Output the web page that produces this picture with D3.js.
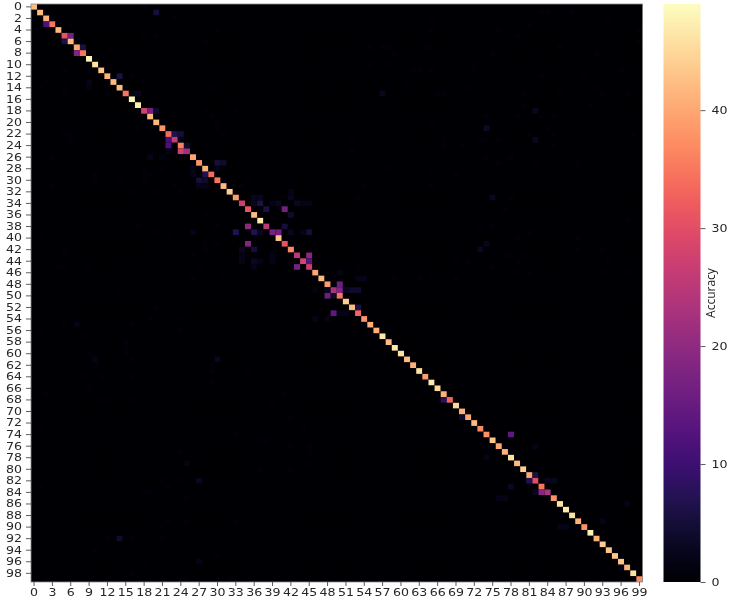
<!DOCTYPE html>
<html>
<head>
<meta charset="utf-8">
<script src="https://cdnjs.cloudflare.com/ajax/libs/d3/7.8.5/d3.min.js"></script>
<style>
  html, body { margin: 0; padding: 0; background: #fff; }
  svg { display: block; filter: blur(0.45px); }
  text { font-family: "DejaVu Sans", sans-serif; fill: #262626; }
</style>
</head>
<body>
<div id="chart"></div>
<script>
// accuracy on the diagonal, class 0 to 99
var diagonal = [
  42,42,41,35,42,31,42,40,35,48,
  46,43,41,42,42,35,48,47,28,42,
  42,38,34,26,36,22,40,38,41,34,
  35,42,44,39,27,31,42,47,25,17,
  43,31,37,25,28,27,40,42,39,23,
  35,44,42,33,38,41,41,47,42,47,
  46,42,41,46,39,47,45,41,33,45,
  41,40,42,37,38,43,40,41,46,42,
  44,40,30,35,23,38,46,47,46,41,
  38,48,41,44,43,43,43,41,46,37
];

// visible confusions: [row, col, value]
var offCells = [
  [1,20,5],[3,2,12],[5,6,17],[6,5,6],[8,7,18],[7,8,6],[12,14,6],[18,19,17],[18,20,4],
  [15,16,2],[15,17,3],[22,23,7],[22,24,5],[23,22,11],[24,22,12],[24,25,4],[25,24,27],
  [25,22,2],[23,24,2],[27,30,5],[27,31,4],[28,30,2],[29,28,7],[30,27,5],[30,28,4],
  [29,26,2],[28,26,2],[26,19,2],[26,21,1.5],[31,27,2],[31,28,2],[13,9,2],[14,9,1.5],
  [35,41,17],[38,35,20],[41,35,18],[39,33,7],[39,36,7],[39,37,3],[39,40,16],[38,41,5],
  [39,45,5],[39,42,2.5],[39,44,2],[34,37,6],[34,36,3],[34,43,3],[34,40,3],[34,39,2],
  [34,44,2],[34,45,2],[35,38,6],[36,42,4],[33,37,2.5],[33,36,2.5],[33,42,2.5],[32,42,2],
  [42,36,5],[42,34,3],[43,34,2],[44,34,2],[44,36,3],[44,37,2],[45,36,2],[43,39,2],
  [44,39,2],[43,45,19],[44,45,13],[45,43,17],[48,50,16],[49,50,18],[50,48,16],
  [50,49,4],[49,48,3],[53,49,14],[46,50,2],[52,53,6],[49,51,3],[49,52,4],[49,53,4],
  [53,51,2],[53,50,2],[47,53,2],[47,54,2],[49,46,1.5],[54,46,2],[54,48,2],
  [15,57,3],[21,74,3.5],[18,82,3],[23,82,3],[33,75,3],[42,73,3],[41,74,2.5],
  [39,26,2],[55,7,2],[61,30,3],[61,10,2],[79,25,2],[82,27,3],[96,27,2],[92,14,4],
  [74,78,14],[78,74,2],[81,82,6],[82,81,7],[76,82,2],[85,76,2],[85,77,2],[82,84,3],
  [82,85,3],[83,78,3],[84,82,3],[84,83,19],[71,70,4],[68,67,8],[86,97,2],[89,93,2],
  [90,86,2],[90,87,2],[97,96,2]
];

// barely visible cells, all about the same value
var faintValue = 0.8;
var faintCells = [
  [1,83],[1,84],[1,88],[2,94],[3,81],[2,65],[4,65],[4,76],[5,79],[4,99],[6,99],
  [7,55],[7,57],[7,58],[7,64],[7,65],[7,86],[8,59],[8,75],[8,92],[10,55],[10,58],[10,72],
  [11,62],[11,63],[11,65],[11,72],[11,96],[12,83],[12,90],[14,61],[14,71],[14,92],
  [15,66],[15,67],[15,80],[15,86],[15,93],[15,97],[17,80],[17,91],[19,74],[19,79],[19,83],[19,85],
  [20,65],[21,84],[22,81],[22,85],[22,98],[23,52],[23,67],[23,73],[23,74],[23,76],
  [24,67],[24,70],[24,85],[25,52],[26,74],[26,78],[27,76],[27,82],[27,89],[28,58],[28,65],
  [29,69],[31,54],[31,65],[33,53],[33,78],[35,77],[37,97],[38,73],[38,75],[39,81],[40,79],[40,89],
  [42,89],[42,93],[43,77],[43,78],[43,80],[44,69],[44,71],[44,79],[44,94],[45,53],[45,75],
  [46,65],[46,79],[46,81],[46,93],[46,97],[47,59],[47,63],[47,69],
  [38,17],[39,1],[39,20],[39,22],[36,28],[38,30],[41,28],[41,30],[42,28],[42,5],[43,5],
  [43,26],[45,4],[45,5],[45,9],[45,27],[46,31],[47,26],[50,14],[52,20],[54,19],[54,24],
  [55,5],[55,16],[56,1],[56,24],[56,44],[57,8],[58,15],[59,15],[60,15],[60,9],[61,16],[62,10],
  [62,29],[63,29],[63,35],[65,29],[64,8],[64,11],[64,16],[66,9],[67,2],[68,11],[68,12],[68,16],
  [67,41],[69,39],[71,42],[73,1],[73,44],[74,33],[75,37],[75,38],[76,42],[76,45],[77,45],[77,24],
  [79,45],[80,37],[80,42],[82,21],[82,24],[83,1],[83,22],[92,12],[92,16],[92,21],[89,22],[90,21],
  [89,25],[89,33],[84,18],[84,19],[85,25],[94,10],[95,30],[97,18],[98,16],[99,2],[99,21],[99,24],
  [99,25],[99,30],[99,32],
  [5,1],[0,18],[2,23],[4,30],[6,28],[5,18],[5,20],[11,5],[11,9],[14,1],[13,2],[14,5],[15,5],
  [13,12],[15,12],[12,16],[14,29],[18,28],[18,33],[19,29],[20,30],[21,30],[21,17],[20,18],[21,19],
  [22,5],[22,6],[23,6],[22,31],[26,3],[29,10],[30,10],[30,14],[28,18],[29,18],[30,18],[29,19],
  [28,21],[31,3],[32,16],[32,20],[31,23],[32,24],[30,35],[31,34],[31,30],[32,30],[2,3],[3,6]
];

var nClasses = 100;
var maxValue = 49;
var barTicks = [0, 10, 20, 30, 40];
var classes = d3.range(nClasses);
var xTickLabels = classes.filter(function(d){ return d % 3 == 0; });
var yTickLabels = classes.filter(function(d){ return d % 2 == 0; });

var width = 750, height = 605;
var left = 31, right = 642.5, top_ = 4, bottom = 582;
var barLeft = 663.5, barRight = 700.5;
var textStretch = 1.2; // reference labels are wider than they are tall

// fill the matrix from the arrays above
var matrix = classes.map(function(){ return classes.map(function(){ return 0; }); });
faintCells.forEach(function(c){ matrix[c[0]][c[1]] = faintValue; });
offCells.forEach(function(c){ matrix[c[0]][c[1]] = c[2]; });
diagonal.forEach(function(v, i){ matrix[i][i] = v; });

var cells = [];
matrix.forEach(function(row, r){
  row.forEach(function(v, c){ cells.push({row: r, col: c, value: v}); });
});

var color = d3.scaleSequential(d3.interpolateMagma).domain([0, maxValue]);
var x = d3.scaleBand().domain(classes).range([left, right]);
var y = d3.scaleBand().domain(classes).range([top_, bottom]);

var svg = d3.select('#chart')
  .append('svg')
  .attr('width', width)
  .attr('height', height);

svg.append('rect')
  .attr('x', left)
  .attr('y', top_)
  .attr('width', right - left)
  .attr('height', bottom - top_)
  .attr('fill', color(0));

svg.append('g')
  .selectAll('rect')
  .data(cells)
  .enter()
  .append('rect')
  .attr('x', function(d){ return x(d.col); })
  .attr('y', function(d){ return y(d.row); })
  .attr('width', x.bandwidth())
  .attr('height', y.bandwidth())
  .attr('fill', function(d){ return color(d.value); });

svg.append('rect')
  .attr('x', left)
  .attr('y', top_)
  .attr('width', right - left)
  .attr('height', bottom - top_)
  .attr('fill', 'none')
  .attr('stroke', '#8a8a8a')
  .attr('stroke-width', 0.8);

var xAxis = svg.append('g')
  .attr('transform', 'translate(0,' + bottom + ')')
  .call(d3.axisBottom(x).tickValues(xTickLabels).tickSize(4).tickPadding(3));
var yAxis = svg.append('g')
  .attr('transform', 'translate(' + left + ',0)')
  .call(d3.axisLeft(y).tickValues(yTickLabels).tickSize(5).tickPadding(4));

// colorbar
var defs = svg.append('defs');
var grad = defs.append('linearGradient')
  .attr('id', 'barGrad')
  .attr('x1', 0).attr('x2', 0).attr('y1', 1).attr('y2', 0);
grad.selectAll('stop')
  .data(d3.range(0, 1.001, 0.05))
  .enter()
  .append('stop')
  .attr('offset', function(d){ return d; })
  .attr('stop-color', function(d){ return d3.interpolateMagma(d); });

svg.append('rect')
  .attr('x', barLeft)
  .attr('y', top_)
  .attr('width', barRight - barLeft)
  .attr('height', bottom - top_)
  .attr('fill', 'url(#barGrad)');

var barScale = d3.scaleLinear().domain([0, maxValue]).range([bottom, top_]);
var barAxis = svg.append('g')
  .attr('transform', 'translate(' + barRight + ',0)')
  .call(d3.axisRight(barScale).tickValues(barTicks).tickSize(5).tickPadding(6));

[xAxis, yAxis, barAxis].forEach(function(a){
  a.select('.domain').remove();
  a.selectAll('line').attr('stroke', '#333').attr('stroke-width', 0.8);
  a.selectAll('text')
    .style('font-size', '10.5px')
    .attr('fill', '#262626')
    .attr('x', function(){ return +d3.select(this).attr('x') / textStretch; })
    .attr('transform', 'scale(' + textStretch + ',1)');
});

svg.append('text')
  .attr('transform', 'translate(715,293) rotate(-90)')
  .attr('text-anchor', 'middle')
  .style('font-family', '"Open Sans", sans-serif')
  .style('font-size', '12px')
  .text('Accuracy');
</script>
</body>
</html>
